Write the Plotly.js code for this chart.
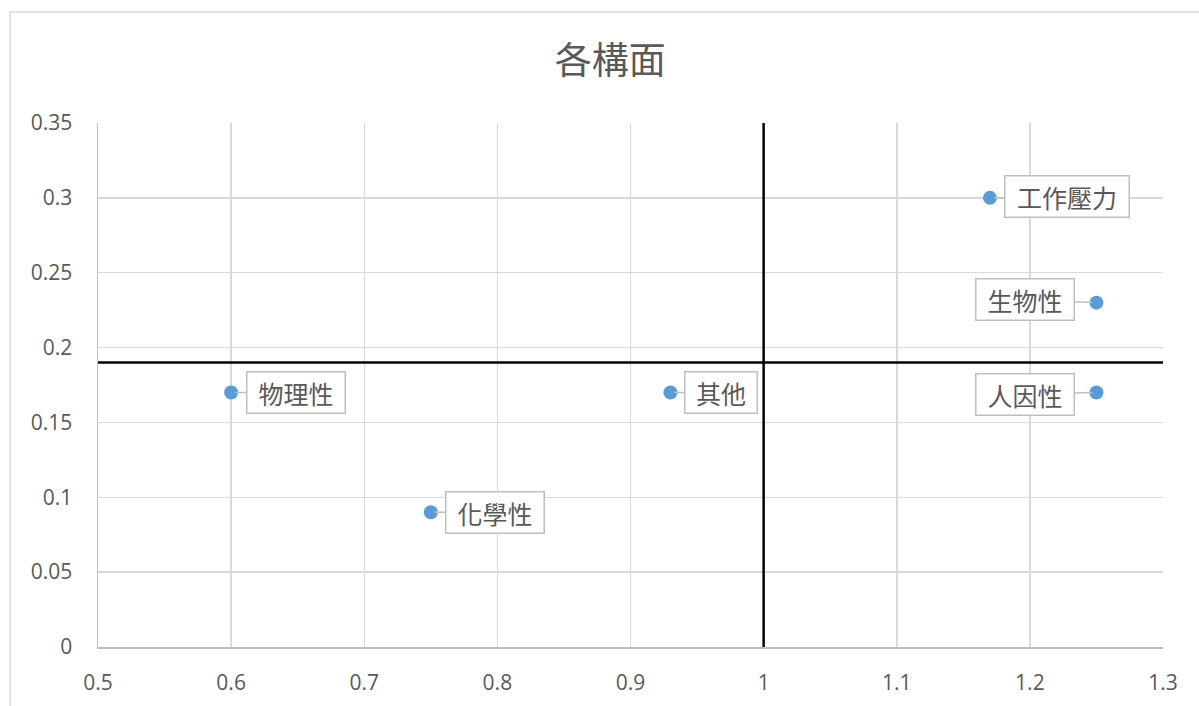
<!DOCTYPE html>
<html>
<head>
<meta charset="utf-8">
<script src="https://cdn.plot.ly/plotly-3.0.1.min.js"></script>
<style>
  html, body { margin: 0; padding: 0; background: #ffffff; }
  #chart { width: 1199px; height: 706px; }
</style>
</head>
<body>
<div id="chart"></div>
<script>
// Dimension names and their (x, y) positions
const names = ['工作壓力', '生物性', '人因性', '其他', '物理性', '化學性'];
const xVals = [1.17, 1.25, 1.25, 0.93, 0.60, 0.75];
const yVals = [0.30, 0.23, 0.17, 0.17, 0.17, 0.09];

// Callout offsets (pixels) of each label box from its point
const labelDX = [77, -71, -71, 51, 65, 64];
const labelDY = [-1, -3, 2, 0, 0, 0];

// Quadrant dividers
const divX = 1;
const divY = 0.19;

// Axis ranges and ticks
const xRange = [0.5, 1.3];
const yRange = [0, 0.35];
const xTicks = [0.5, 0.6, 0.7, 0.8, 0.9, 1, 1.1, 1.2, 1.3];
const yTicks = [0, 0.05, 0.1, 0.15, 0.2, 0.25, 0.3, 0.35];

const grey = '#595959';
const cjk = '"Noto Sans CJK TC", "Noto Sans CJK SC", sans-serif';
const num = '"Open Sans", "Noto Sans", sans-serif';

const traces = [
  // vertical divider at x = 1
  {
    x: [divX, divX], y: yRange, mode: 'lines', type: 'scatter',
    line: { color: '#000000', width: 2.5 }, hoverinfo: 'skip', showlegend: false,
    cliponaxis: false
  },
  // horizontal divider at y = 0.19
  {
    x: xRange, y: [divY, divY], mode: 'lines', type: 'scatter',
    line: { color: '#000000', width: 2.5 }, hoverinfo: 'skip', showlegend: false,
    cliponaxis: false
  },
  {
    x: xVals, y: yVals, text: names, mode: 'markers', type: 'scatter',
    marker: { color: '#5b9bd5', size: 14 }, showlegend: false, cliponaxis: false
  }
];

const annotations = names.map((n, i) => ({
  x: xVals[i], y: yVals[i], xref: 'x', yref: 'y',
  text: n,
  width: 26 * n.length + 17, height: 38,
  showarrow: true, arrowhead: 0, arrowwidth: 1.5, arrowcolor: '#bfbfbf',
  ax: labelDX[i], ay: labelDY[i], standoff: 4,
  bgcolor: '#ffffff', bordercolor: '#bfbfbf', borderwidth: 1.5, borderpad: 1,
  font: { family: cjk, size: 25, color: grey }
}));

const layout = {
  width: 1199, height: 706,
  margin: { l: 98, r: 36, t: 123, b: 59, pad: 0 },
  paper_bgcolor: '#ffffff', plot_bgcolor: '#ffffff',
  title: {
    text: '各構面', x: 0.509, xref: 'container', xanchor: 'center',
    y: 0.9136, yref: 'container', yanchor: 'middle',
    font: { family: cjk, size: 37, color: grey }
  },
  xaxis: {
    range: xRange, tickvals: xTicks, ticktext: xTicks.map(String),
    showgrid: true, gridcolor: '#d9d9d9', gridwidth: 1.5,
    zeroline: false, showline: true, linecolor: '#bfbfbf', linewidth: 1.5,
    ticks: '', ticklabelstandoff: 16,
    tickfont: { family: num, size: 21, color: grey }, fixedrange: true
  },
  yaxis: {
    range: yRange, tickvals: yTicks, ticktext: yTicks.map(String),
    showgrid: true, gridcolor: '#d9d9d9', gridwidth: 1.5,
    zeroline: false, showline: true, linecolor: '#bfbfbf', linewidth: 1.5,
    ticks: '', ticklabelstandoff: 20,
    tickfont: { family: num, size: 21, color: grey }, fixedrange: true
  },
  shapes: [
    // chart frame
    {
      type: 'rect', xref: 'paper', yref: 'paper',
      x0: -0.0826, x1: 1.2, y0: -0.3, y1: 1.2118,
      line: { color: '#d9d9d9', width: 1.5 }, fillcolor: 'rgba(0,0,0,0)', layer: 'below'
    }
  ],
  annotations: annotations,
  showlegend: false
};

Plotly.newPlot('chart', traces, layout, { displayModeBar: false, staticPlot: true });
</script>
</body>
</html>
